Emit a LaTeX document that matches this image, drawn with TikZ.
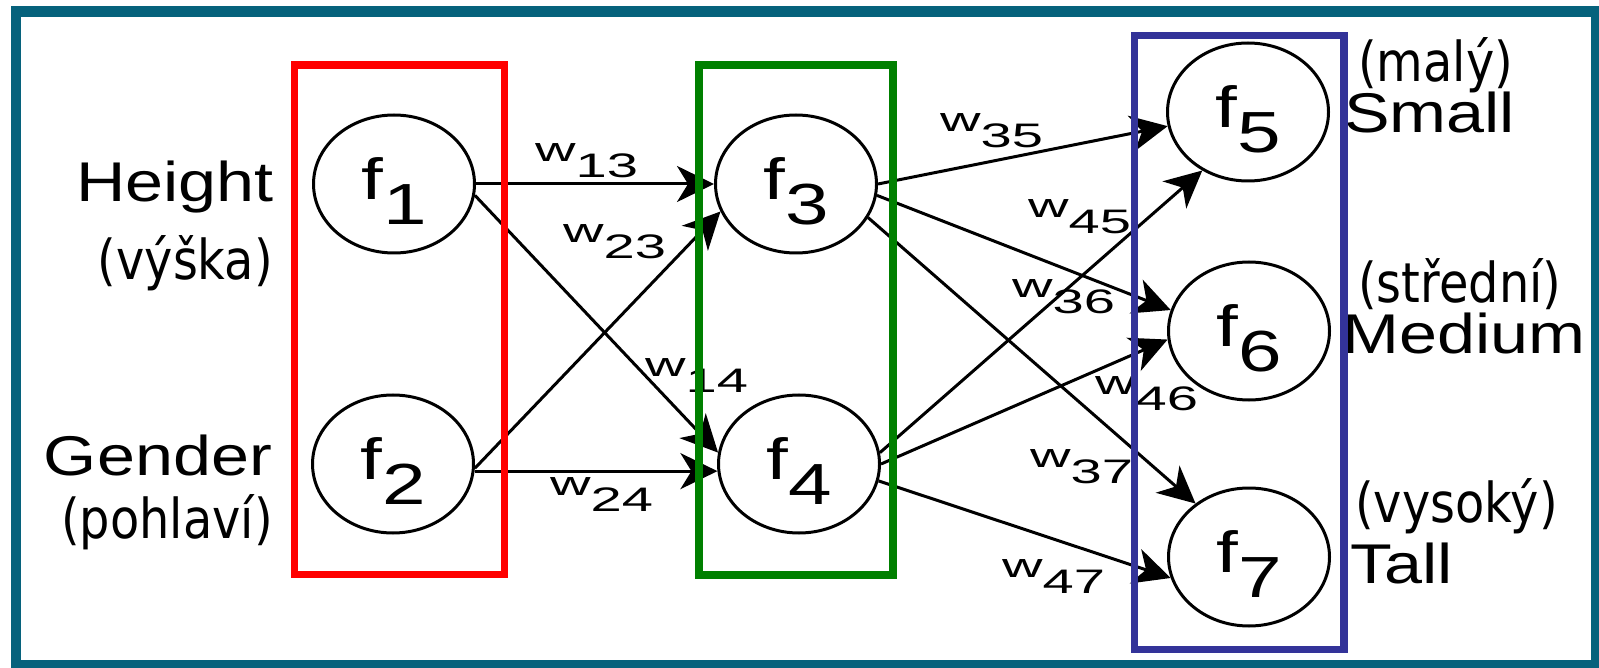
\documentclass[tikz,border=0pt]{standalone}
\usepackage{fontspec}
\setmainfont{Liberation Sans}
\newfontfamily\engfont[FakeStretch=1.22]{Liberation Sans}
\newfontfamily\czfont[FakeStretch=0.87]{DejaVu Sans}
\newfontfamily\wfont[FakeStretch=1.65]{Liberation Sans}
\newfontfamily\ffont[FakeStretch=1.35]{Liberation Sans}
\usetikzlibrary{
    shapes.geometric,
    arrows.meta
}
\definecolor{RamTeal}{RGB}{6,98,124}
\definecolor{BoxRed}{RGB}{255,0,0}
\definecolor{BoxGreen}{RGB}{0,128,0}
\definecolor{BoxBlue}{RGB}{51,51,153}

\newcommand{\wgt}[1]{w\raisebox{-16pt}{#1}}
\newcommand{\fsub}[1]{f\raisebox{-25pt}{#1}}

\tikzset{
    neuron/.style={
        draw,
        ellipse,
        line width=3pt,
        minimum width=161pt,
        minimum height=138pt,
        inner sep=0pt,
        text height=56pt,
        text depth=25pt,
        font=\ffont\fontsize{58}{60}\selectfont
    },
    conn/.style={-{Stealth[length=37pt,width=36pt,inset=11pt]}, line width=3pt},
    wlabel/.style={anchor=base west, inner sep=0pt, font=\wfont\fontsize{34}{36}\selectfont},
    englabel/.style={inner sep=0pt, font=\engfont\fontsize{56}{60}\selectfont},
    czlabel/.style={inner sep=0pt, font=\czfont\fontsize{55}{60}\selectfont},
    layerbox/.style={line width=7.5pt}
}

\begin{document}
\begin{tikzpicture}[x=1pt,y=-1pt]

    \useasboundingbox (0,0) rectangle (1599,668);
    \clip (0,0) rectangle (1599,668);
    \fill[white] (0,0) rectangle (1599,668);
    \draw[RamTeal, line width=10.5pt] (16,11.5) rectangle (1596,665);

    % neurons
    \node[neuron] (f1) at (394,184) {\fsub{1}};
    \node[neuron] (f2) at (393,464) {\fsub{2}};
    \node[neuron] (f3) at (796,184) {\fsub{3}};
    \node[neuron] (f4) at (799,464) {\fsub{4}};
    \node[neuron] (f5) at (1248,112) {\fsub{5}};
    \node[neuron] (f6) at (1249,331) {\fsub{6}};
    \node[neuron] (f7) at (1249,557) {\fsub{7}};

    % connections
    \draw[conn] (f1.east) -- (f3.west);
    \draw[conn] (f1.-8) -- (f4.172);
    \draw[conn] (f2.-3) -- (f3.200);
    \draw[conn] (f2.-5) -- (f4.185);
    \draw[conn] (f3.east) -- (f5.190);
    \draw[conn] (f3.-8) -- (f6.165);
    \draw[conn] (f3.-25) -- (f7.135);
    \draw[conn] (f4.8) -- (f5.232);
    \draw[conn] (f4.east) -- (f6.186);
    \draw[conn] (f4.-12) -- (f7.195);

    % weights
    \node[wlabel] (w13) at (535,162) {\wgt{13}};
    \node[wlabel] (w23) at (563,243) {\wgt{23}};
    \node[wlabel] (w14) at (645,377) {\wgt{14}};
    \node[wlabel] (w24) at (550,495) {\wgt{24}};
    \node[wlabel] (w35) at (940,132) {\wgt{35}};
    \node[wlabel] (w45) at (1028,218) {\wgt{45}};
    \node[wlabel] (w36) at (1012,298) {\wgt{36}};
    \node[wlabel] (w46) at (1095,395) {\wgt{46}};
    \node[wlabel] (w37) at (1030,467) {\wgt{37}};
    \node[wlabel] (w47) at (1002,577) {\wgt{47}};

    % inputs
    \node[englabel, anchor=base east] (height) at (274,202) {Height};
    \node[czlabel, anchor=base east] (vyska) at (273,280) {(výška)};
    \node[englabel, anchor=base east] (gender) at (272,475) {Gender};
    \node[czlabel, anchor=base east] (pohlavi) at (273,538) {(pohlaví)};

    % outputs
    \node[czlabel, anchor=base west] (maly) at (1358,82) {(malý)};
    \node[englabel, anchor=base west] (small) at (1344,133) {Small};
    \node[czlabel, anchor=base west] (stredni) at (1358,303) {(střední)};
    \node[englabel, anchor=base west] (medium) at (1342,354) {Medium};
    \node[czlabel, anchor=base west] (vysoky) at (1355,522) {(vysoký)};
    \node[englabel, anchor=base west] (tall) at (1350,583) {Tall};

    % layer boxes
    \draw[layerbox, BoxRed] (294.5,65) rectangle (504.5,574.5);
    \draw[layerbox, BoxGreen] (699,65) rectangle (893,575);
    \draw[layerbox, BoxBlue] (1134.5,35.5) rectangle (1344,649.5);

\end{tikzpicture}
\end{document}
